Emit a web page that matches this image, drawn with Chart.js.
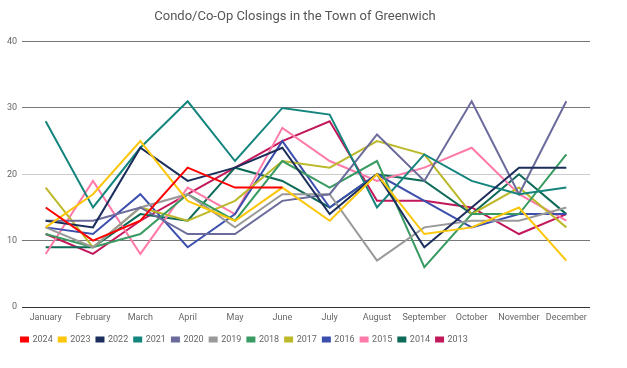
<!DOCTYPE html>
<html>
<head>
<meta charset="utf-8">
<script src="https://cdn.jsdelivr.net/npm/chart.js@4"></script>
<style>
  body { margin: 0; background: #fff; }
  #wrap { width: 627px; height: 368px; }
</style>
</head>
<body>
<div id="wrap"><canvas id="grafica"></canvas></div>
<script>
const meses = ['January', 'February', 'March', 'April', 'May', 'June', 'July', 'August', 'September', 'October', 'November', 'December'];
const anios = ['2024', '2023', '2022', '2021', '2020', '2019', '2018', '2017', '2016', '2015', '2014', '2013'];
const colores = ['#ff0000', '#fcc60a', '#1c2e5c', '#14857d', '#6b6b9c', '#999999', '#3a9b62', '#bcb92b', '#3d4fad', '#ff7aa8', '#0d6a57', '#c2185b'];

const v2024 = [15, 10, 13, 21, 18, 18];
const v2023 = [12, 17, 25, 16, 13, 18, 13, 20, 11, 12, 15, 7];
const v2022 = [13, 12, 24, 19, 21, 24, 14, 20, 9, 15, 21, 21];
const v2021 = [28, 15, 24, 31, 22, 30, 29, 15, 23, 19, 17, 18];
const v2020 = [13, 13, 15, 11, 11, 16, 17, 26, 19, 31, 17, 31];
const v2019 = [12, 9, 15, 17, 12, 17, 17, 7, 12, 13, 13, 15];
const v2018 = [11, 9, 11, 17, 13, 22, 18, 22, 6, 14, 14, 23];
const v2017 = [18, 9, 15, 13, 16, 22, 21, 25, 23, 14, 18, 12];
const v2016 = [12, 11, 17, 9, 14, 25, 15, 20, 16, 12, 14, 14];
const v2015 = [8, 19, 8, 18, 14, 27, 22, 19, 21, 24, 17, 13];
const v2014 = [9, 9, 14, 13, 21, 19, 15, 20, 19, 14, 20, 14];
const v2013 = [11, 8, 13, 17, 21, 25, 28, 16, 16, 15, 11, 14];

const series = [v2024, v2023, v2022, v2021, v2020, v2019, v2018, v2017, v2016, v2015, v2014, v2013];

const datasets = anios.map(function(a, i) {
  return {
    label: a,
    data: series[i],
    borderColor: colores[i],
    backgroundColor: colores[i],
    borderWidth: 2,
    pointRadius: 0,
    tension: 0,
    fill: false
  };
});

// la leyenda empieza un poco mas a la derecha que el eje
const moverLeyenda = {
  id: 'moverLeyenda',
  afterLayout: function(chart) {
    chart.legend.left += 15;
    chart.legend.right += 15;
  }
};

const canvas = document.getElementById('grafica');

new Chart(canvas, {
  type: 'line',
  data: {
    labels: meses,
    datasets: datasets
  },
  plugins: [moverLeyenda],
  options: {
    responsive: true,
    maintainAspectRatio: false,
    animation: false,
    layout: {
      padding: { left: 0, right: 37, top: 0, bottom: 14 }
    },
    plugins: {
      title: {
        display: true,
        text: 'Condo/Co-Op Closings in the Town of Greenwich',
        color: '#555',
        font: { family: 'Roboto', size: 13, weight: 'normal' },
        padding: { top: 9, bottom: 17 }
      },
      legend: {
        position: 'bottom',
        align: 'start',
        labels: {
          boxWidth: 7,
          boxHeight: 4,
          padding: 6,
          color: '#666',
          font: { family: 'Roboto', size: 9 }
        }
      },
      tooltip: { enabled: false }
    },
    scales: {
      x: {
        offset: true,
        grid: { display: false, drawTicks: false },
        border: { display: false },
        ticks: {
          color: '#666',
          font: { family: 'Roboto', size: 9 },
          maxRotation: 0,
          autoSkip: false,
          padding: 5
        },
        afterFit: function(s) { s.height = 22; }
      },
      y: {
        min: 0,
        max: 40,
        border: { display: false },
        grid: {
          drawTicks: false,
          color: function(ctx) {
            if (ctx.tick.value === 0) return '#333';
            if (ctx.tick.value === 20) return '#cccccc';
            return '#777';
          }
        },
        ticks: {
          stepSize: 10,
          color: '#666',
          font: { family: 'Roboto', size: 9 },
          padding: 5
        },
        afterFit: function(s) { s.width = 22; }
      }
    }
  }
});
</script>
</body>
</html>
